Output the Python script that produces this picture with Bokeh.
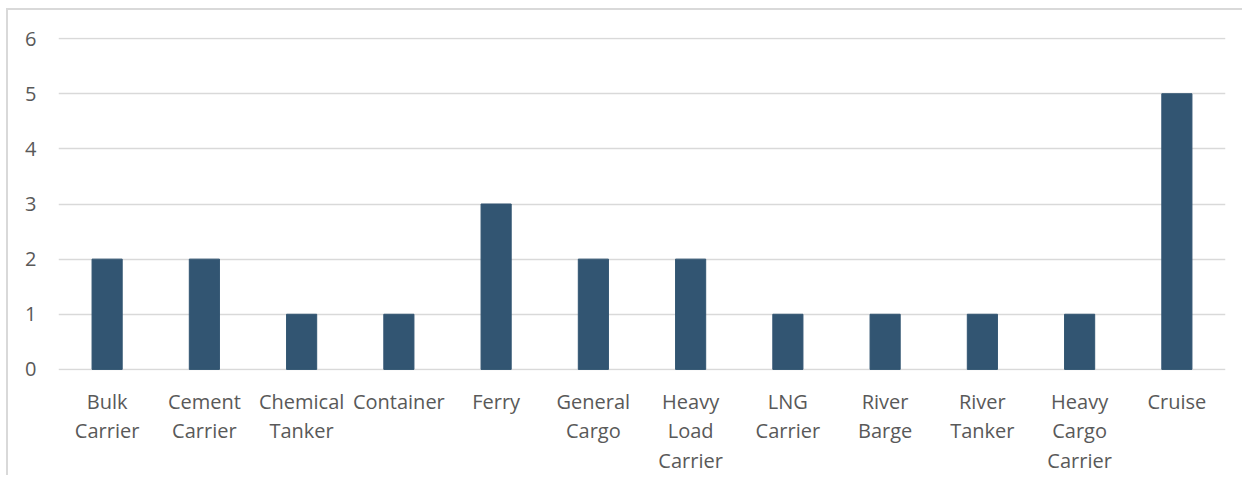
from bokeh.plotting import figure
from bokeh.models import Range1d, FactorRange
from bokeh.embed import file_html
from bokeh.resources import INLINE

categories = ["Bulk\nCarrier", "Cement\nCarrier", "Chemical\nTanker", "Container", "Ferry",
              "General\nCargo", "Heavy\nLoad\nCarrier", "LNG\nCarrier", "River\nBarge",
              "River\nTanker", "Heavy\nCargo\nCarrier", "Cruise"]
counts = [2, 2, 1, 1, 3, 2, 2, 1, 1, 1, 1, 5]
y_ticks = [0, 1, 2, 3, 4, 5, 6]

p = figure(width=1236, height=467, x_range=FactorRange(*categories, range_padding=0),
           y_range=Range1d(-0.02, 6.02), output_backend="svg", toolbar_location=None,
           min_border_left=50, min_border_right=19, min_border_top=27, min_border_bottom=107)
p.styles = {"border-left": "2px solid #d9d9d9", "border-top": "2px solid #d9d9d9",
            "margin-left": "6px", "margin-top": "8px"}

p.vbar(x=categories, top=counts, width=0.31, color="#325572")

p.outline_line_color = None
p.xgrid.grid_line_color = None
p.ygrid.grid_line_color = "#d9d9d9"
p.ygrid.grid_line_width = 1.5
p.yaxis.ticker = y_ticks

for ax in (p.xaxis, p.yaxis):
    ax.axis_line_color = None
    ax.major_tick_line_color = None
    ax.minor_tick_line_color = None
    ax.major_tick_out = 0
    ax.minor_tick_out = 0
    ax.major_label_text_color = "#595959"
    ax.major_label_text_font = "Open Sans"
    ax.major_label_text_font_size = "20px"

p.xaxis.major_label_standoff = 17
p.xaxis.major_label_text_line_height = 1.1
p.yaxis.major_label_standoff = 22

open("out.html", "w").write(file_html(p, INLINE))
